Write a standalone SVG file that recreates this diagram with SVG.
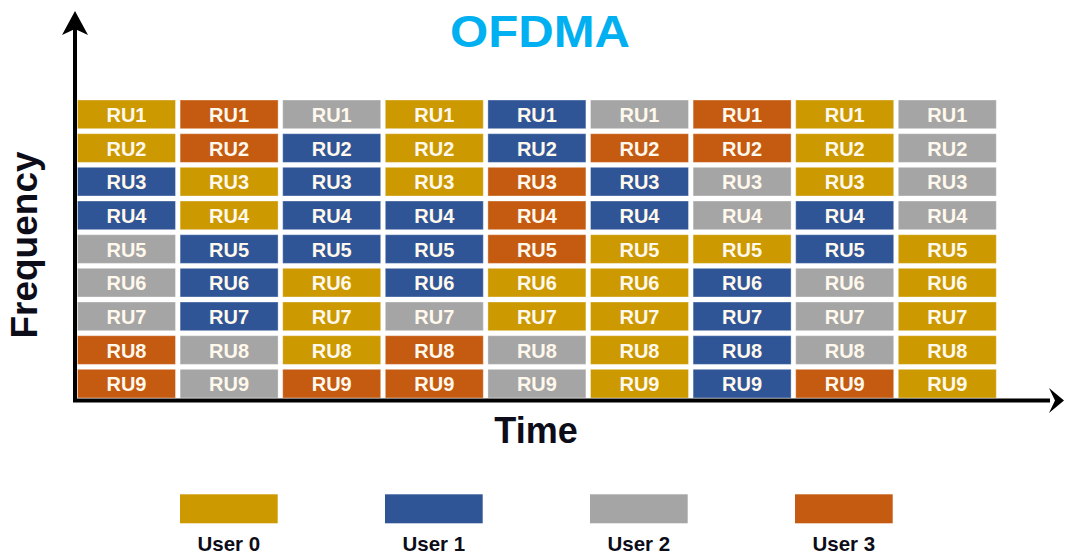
<svg xmlns="http://www.w3.org/2000/svg" width="1065" height="558" viewBox="0 0 1065 558">
<style>
.c{stroke:#ffffff;stroke-opacity:0.35;stroke-width:1}
.g{fill:#CC9900}.b{fill:#2F5597}.y{fill:#A5A5A5}.o{fill:#C55A11}
.t{font-family:"Liberation Sans",Arial,sans-serif;font-weight:bold;font-size:20px;fill:#FFF8EC;text-anchor:middle}
.lab{font-family:"Liberation Sans",Arial,sans-serif;font-weight:bold;fill:#0d0d1a;text-anchor:middle}
.ax{stroke:#000;stroke-width:4;fill:none}
</style>
<rect width="1065" height="558" fill="#fff"/>
<text x="540" y="47" font-family="'Liberation Sans',Arial,sans-serif" font-weight="bold" font-size="45" fill="#00B0F0" text-anchor="middle" textLength="180" lengthAdjust="spacingAndGlyphs">OFDMA</text>
<g id="cells">
<g id="col1">
<rect class="c g" x="77.5" y="100" width="98" height="28.7"/><text class="t" x="126.5" y="122">RU1</text>
<rect class="c g" x="77.5" y="133.7" width="98" height="28.7"/><text class="t" x="126.5" y="155.7">RU2</text>
<rect class="c b" x="77.5" y="167.3" width="98" height="28.7"/><text class="t" x="126.5" y="189.3">RU3</text>
<rect class="c b" x="77.5" y="201" width="98" height="28.7"/><text class="t" x="126.5" y="223">RU4</text>
<rect class="c y" x="77.5" y="234.7" width="98" height="28.7"/><text class="t" x="126.5" y="256.7">RU5</text>
<rect class="c y" x="77.5" y="268.3" width="98" height="28.7"/><text class="t" x="126.5" y="290.3">RU6</text>
<rect class="c y" x="77.5" y="302" width="98" height="28.7"/><text class="t" x="126.5" y="324">RU7</text>
<rect class="c o" x="77.5" y="335.7" width="98" height="28.7"/><text class="t" x="126.5" y="357.7">RU8</text>
<rect class="c o" x="77.5" y="369.3" width="98" height="28.7"/><text class="t" x="126.5" y="391.3">RU9</text>
</g>
<g id="col2">
<rect class="c o" x="180.1" y="100" width="98" height="28.7"/><text class="t" x="229.1" y="122">RU1</text>
<rect class="c o" x="180.1" y="133.7" width="98" height="28.7"/><text class="t" x="229.1" y="155.7">RU2</text>
<rect class="c g" x="180.1" y="167.3" width="98" height="28.7"/><text class="t" x="229.1" y="189.3">RU3</text>
<rect class="c g" x="180.1" y="201" width="98" height="28.7"/><text class="t" x="229.1" y="223">RU4</text>
<rect class="c b" x="180.1" y="234.7" width="98" height="28.7"/><text class="t" x="229.1" y="256.7">RU5</text>
<rect class="c b" x="180.1" y="268.3" width="98" height="28.7"/><text class="t" x="229.1" y="290.3">RU6</text>
<rect class="c b" x="180.1" y="302" width="98" height="28.7"/><text class="t" x="229.1" y="324">RU7</text>
<rect class="c y" x="180.1" y="335.7" width="98" height="28.7"/><text class="t" x="229.1" y="357.7">RU8</text>
<rect class="c y" x="180.1" y="369.3" width="98" height="28.7"/><text class="t" x="229.1" y="391.3">RU9</text>
</g>
<g id="col3">
<rect class="c y" x="282.7" y="100" width="98" height="28.7"/><text class="t" x="331.7" y="122">RU1</text>
<rect class="c b" x="282.7" y="133.7" width="98" height="28.7"/><text class="t" x="331.7" y="155.7">RU2</text>
<rect class="c b" x="282.7" y="167.3" width="98" height="28.7"/><text class="t" x="331.7" y="189.3">RU3</text>
<rect class="c b" x="282.7" y="201" width="98" height="28.7"/><text class="t" x="331.7" y="223">RU4</text>
<rect class="c b" x="282.7" y="234.7" width="98" height="28.7"/><text class="t" x="331.7" y="256.7">RU5</text>
<rect class="c g" x="282.7" y="268.3" width="98" height="28.7"/><text class="t" x="331.7" y="290.3">RU6</text>
<rect class="c g" x="282.7" y="302" width="98" height="28.7"/><text class="t" x="331.7" y="324">RU7</text>
<rect class="c g" x="282.7" y="335.7" width="98" height="28.7"/><text class="t" x="331.7" y="357.7">RU8</text>
<rect class="c o" x="282.7" y="369.3" width="98" height="28.7"/><text class="t" x="331.7" y="391.3">RU9</text>
</g>
<g id="col4">
<rect class="c g" x="385.3" y="100" width="98" height="28.7"/><text class="t" x="434.3" y="122">RU1</text>
<rect class="c g" x="385.3" y="133.7" width="98" height="28.7"/><text class="t" x="434.3" y="155.7">RU2</text>
<rect class="c g" x="385.3" y="167.3" width="98" height="28.7"/><text class="t" x="434.3" y="189.3">RU3</text>
<rect class="c b" x="385.3" y="201" width="98" height="28.7"/><text class="t" x="434.3" y="223">RU4</text>
<rect class="c b" x="385.3" y="234.7" width="98" height="28.7"/><text class="t" x="434.3" y="256.7">RU5</text>
<rect class="c b" x="385.3" y="268.3" width="98" height="28.7"/><text class="t" x="434.3" y="290.3">RU6</text>
<rect class="c y" x="385.3" y="302" width="98" height="28.7"/><text class="t" x="434.3" y="324">RU7</text>
<rect class="c o" x="385.3" y="335.7" width="98" height="28.7"/><text class="t" x="434.3" y="357.7">RU8</text>
<rect class="c o" x="385.3" y="369.3" width="98" height="28.7"/><text class="t" x="434.3" y="391.3">RU9</text>
</g>
<g id="col5">
<rect class="c b" x="487.9" y="100" width="98" height="28.7"/><text class="t" x="536.9" y="122">RU1</text>
<rect class="c b" x="487.9" y="133.7" width="98" height="28.7"/><text class="t" x="536.9" y="155.7">RU2</text>
<rect class="c o" x="487.9" y="167.3" width="98" height="28.7"/><text class="t" x="536.9" y="189.3">RU3</text>
<rect class="c o" x="487.9" y="201" width="98" height="28.7"/><text class="t" x="536.9" y="223">RU4</text>
<rect class="c o" x="487.9" y="234.7" width="98" height="28.7"/><text class="t" x="536.9" y="256.7">RU5</text>
<rect class="c g" x="487.9" y="268.3" width="98" height="28.7"/><text class="t" x="536.9" y="290.3">RU6</text>
<rect class="c g" x="487.9" y="302" width="98" height="28.7"/><text class="t" x="536.9" y="324">RU7</text>
<rect class="c y" x="487.9" y="335.7" width="98" height="28.7"/><text class="t" x="536.9" y="357.7">RU8</text>
<rect class="c y" x="487.9" y="369.3" width="98" height="28.7"/><text class="t" x="536.9" y="391.3">RU9</text>
</g>
<g id="col6">
<rect class="c y" x="590.5" y="100" width="98" height="28.7"/><text class="t" x="639.5" y="122">RU1</text>
<rect class="c o" x="590.5" y="133.7" width="98" height="28.7"/><text class="t" x="639.5" y="155.7">RU2</text>
<rect class="c b" x="590.5" y="167.3" width="98" height="28.7"/><text class="t" x="639.5" y="189.3">RU3</text>
<rect class="c b" x="590.5" y="201" width="98" height="28.7"/><text class="t" x="639.5" y="223">RU4</text>
<rect class="c g" x="590.5" y="234.7" width="98" height="28.7"/><text class="t" x="639.5" y="256.7">RU5</text>
<rect class="c g" x="590.5" y="268.3" width="98" height="28.7"/><text class="t" x="639.5" y="290.3">RU6</text>
<rect class="c g" x="590.5" y="302" width="98" height="28.7"/><text class="t" x="639.5" y="324">RU7</text>
<rect class="c g" x="590.5" y="335.7" width="98" height="28.7"/><text class="t" x="639.5" y="357.7">RU8</text>
<rect class="c g" x="590.5" y="369.3" width="98" height="28.7"/><text class="t" x="639.5" y="391.3">RU9</text>
</g>
<g id="col7">
<rect class="c o" x="693.1" y="100" width="98" height="28.7"/><text class="t" x="742.1" y="122">RU1</text>
<rect class="c o" x="693.1" y="133.7" width="98" height="28.7"/><text class="t" x="742.1" y="155.7">RU2</text>
<rect class="c y" x="693.1" y="167.3" width="98" height="28.7"/><text class="t" x="742.1" y="189.3">RU3</text>
<rect class="c y" x="693.1" y="201" width="98" height="28.7"/><text class="t" x="742.1" y="223">RU4</text>
<rect class="c g" x="693.1" y="234.7" width="98" height="28.7"/><text class="t" x="742.1" y="256.7">RU5</text>
<rect class="c b" x="693.1" y="268.3" width="98" height="28.7"/><text class="t" x="742.1" y="290.3">RU6</text>
<rect class="c b" x="693.1" y="302" width="98" height="28.7"/><text class="t" x="742.1" y="324">RU7</text>
<rect class="c b" x="693.1" y="335.7" width="98" height="28.7"/><text class="t" x="742.1" y="357.7">RU8</text>
<rect class="c b" x="693.1" y="369.3" width="98" height="28.7"/><text class="t" x="742.1" y="391.3">RU9</text>
</g>
<g id="col8">
<rect class="c g" x="795.7" y="100" width="98" height="28.7"/><text class="t" x="844.7" y="122">RU1</text>
<rect class="c g" x="795.7" y="133.7" width="98" height="28.7"/><text class="t" x="844.7" y="155.7">RU2</text>
<rect class="c g" x="795.7" y="167.3" width="98" height="28.7"/><text class="t" x="844.7" y="189.3">RU3</text>
<rect class="c b" x="795.7" y="201" width="98" height="28.7"/><text class="t" x="844.7" y="223">RU4</text>
<rect class="c b" x="795.7" y="234.7" width="98" height="28.7"/><text class="t" x="844.7" y="256.7">RU5</text>
<rect class="c y" x="795.7" y="268.3" width="98" height="28.7"/><text class="t" x="844.7" y="290.3">RU6</text>
<rect class="c y" x="795.7" y="302" width="98" height="28.7"/><text class="t" x="844.7" y="324">RU7</text>
<rect class="c y" x="795.7" y="335.7" width="98" height="28.7"/><text class="t" x="844.7" y="357.7">RU8</text>
<rect class="c o" x="795.7" y="369.3" width="98" height="28.7"/><text class="t" x="844.7" y="391.3">RU9</text>
</g>
<g id="col9">
<rect class="c y" x="898.3" y="100" width="98" height="28.7"/><text class="t" x="947.3" y="122">RU1</text>
<rect class="c y" x="898.3" y="133.7" width="98" height="28.7"/><text class="t" x="947.3" y="155.7">RU2</text>
<rect class="c y" x="898.3" y="167.3" width="98" height="28.7"/><text class="t" x="947.3" y="189.3">RU3</text>
<rect class="c y" x="898.3" y="201" width="98" height="28.7"/><text class="t" x="947.3" y="223">RU4</text>
<rect class="c g" x="898.3" y="234.7" width="98" height="28.7"/><text class="t" x="947.3" y="256.7">RU5</text>
<rect class="c g" x="898.3" y="268.3" width="98" height="28.7"/><text class="t" x="947.3" y="290.3">RU6</text>
<rect class="c g" x="898.3" y="302" width="98" height="28.7"/><text class="t" x="947.3" y="324">RU7</text>
<rect class="c g" x="898.3" y="335.7" width="98" height="28.7"/><text class="t" x="947.3" y="357.7">RU8</text>
<rect class="c g" x="898.3" y="369.3" width="98" height="28.7"/><text class="t" x="947.3" y="391.3">RU9</text>
</g>
</g>
<g id="axes">
<line class="ax" x1="75" y1="26" x2="75" y2="402"/>
<line class="ax" x1="73" y1="400.5" x2="1050" y2="400.5"/>
<path d="M75 11 L88 35 L75 29 L62 35 Z" fill="#000"/>
<path d="M1064 400.5 L1049 388 L1055 400.5 L1049 413 Z" fill="#000"/>
</g>
<text class="lab" x="536" y="443" font-size="36">Time</text>
<text class="lab" transform="translate(37,245) rotate(-90)" font-size="37">Frequency</text>
<g id="legend">
<g id="user0"><rect class="g" x="180" y="494.3" width="97.7" height="29"/><text class="lab" x="228.8" y="551" font-size="20.5">User 0</text></g>
<g id="user1"><rect class="b" x="385" y="494.3" width="97.7" height="29"/><text class="lab" x="433.8" y="551" font-size="20.5">User 1</text></g>
<g id="user2"><rect class="y" x="590" y="494.3" width="97.7" height="29"/><text class="lab" x="638.8" y="551" font-size="20.5">User 2</text></g>
<g id="user3"><rect class="o" x="795" y="494.3" width="97.7" height="29"/><text class="lab" x="843.8" y="551" font-size="20.5">User 3</text></g>
</g>
</svg>
